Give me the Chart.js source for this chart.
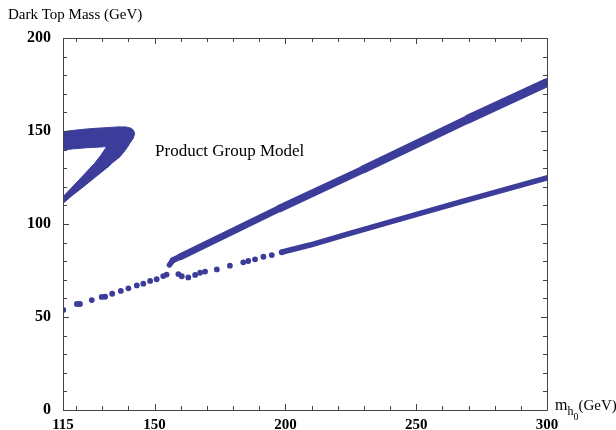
<!DOCTYPE html>
<html><head><meta charset="utf-8">
<script src="https://cdn.jsdelivr.net/npm/chart.js@4/dist/chart.umd.min.js"></script>
<style>html,body{margin:0;padding:0;background:#fff}canvas{display:block}</style>
</head><body>
<canvas id="c" width="616" height="430"></canvas>
<script>
// ---- tick values / labels ----
const xTickValues = [115,120,130,140,150,160,170,180,190,200,210,220,230,240,250,260,270,280,290,300];
const xTickLabels = [115,150,200,250,300];
const yTickValues = [0,10,20,30,40,50,60,70,80,90,100,110,120,130,140,150,160,170,180,190,200];
const yTickLabels = [0,50,100,150,200];

// ---- blob (upper-left region) outline edges ----
const blobTopX = [115,118,122,126,131.5,136,139,141,142,142.4];
const blobTopY = [149.6,150.2,150.8,151.3,151.8,152.2,152.2,151.5,150.3,148.5];
const blobBottomX = [115,119,124,128,131.7,131.8,134,136.8,139,140.6,141.8,142.4];
const blobBottomY = [139.8,140.4,141,141.3,141.6,130.1,133,136.2,140,143.5,146,148.5];
const branchUpperX = [115,119,123,127,129.5,131.7];
const branchUpperY = [114.7,120.5,126.5,132.5,137,141.6];
const branchLowerX = [115,118.5,122.8,127,131.7];
const branchLowerY = [111.1,115.3,120,124.8,130.1];

// ---- upper branch (thick line) ----
const upperX = [155.7,157,160,198,230,270,300];
const upperY = [78,80.5,82.5,108.5,129.5,156.5,176];

// ---- lower branch: dots and dense line ----
const lowerDotsX = [115.1,120.3,121.5,126.0,129.8,131.1,133.8,137.1,140.0,143.2,145.7,148.3,150.8,153.3,154.6,159.1,160.4,162.9,165.5,167.4,169.3,173.8,178.8,183.9,185.8,188.4,191.6,194.8,198.6];
const lowerDotsY = [53.8,57.0,57.0,59.1,60.8,60.9,62.5,64.0,65.4,67.0,67.9,69.4,70.3,72.0,72.8,73.1,71.9,71.3,72.6,73.8,74.4,75.6,77.6,79.4,80.1,81.0,82.4,83.3,84.8];
const lowerLineX = [199.2,209.4,224.7,251.5,268,300];
const lowerLineY = [85.1,88.7,95.0,105.7,112.3,124.8];

const COLOR = '#3c3c9a';
const pts = (xs, ys) => xs.map((x, i) => ({x: x, y: ys[i]}));
const FONT = '"Liberation Serif", "Times New Roman", serif';

const framePlugin = {
  id: 'frame',
  afterDatasetsDraw(chart) {
    const {ctx, chartArea: a, scales: {x, y}} = chart;
    ctx.save();
    ctx.strokeStyle = '#444';
    ctx.lineWidth = 1;
    ctx.beginPath();
    ctx.rect(Math.round(a.left) + 0.5, Math.round(a.top) + 0.5, Math.round(a.right - a.left), Math.round(a.bottom - a.top));
    ctx.stroke();
    ctx.beginPath();
    x.ticks.forEach(t => {
      const p = Math.round(x.getPixelForValue(t.value)) + 0.5;
      const len = xTickLabels.includes(t.value) ? 6 : 4;
      ctx.moveTo(p, a.bottom); ctx.lineTo(p, a.bottom - len);
      ctx.moveTo(p, a.top); ctx.lineTo(p, a.top + len);
    });
    y.ticks.forEach(t => {
      const p = Math.round(y.getPixelForValue(t.value)) + 0.5;
      const len = yTickLabels.includes(t.value) ? 6 : 4;
      ctx.moveTo(a.left, p); ctx.lineTo(a.left + len, p);
      ctx.moveTo(a.right, p); ctx.lineTo(a.right - len, p);
    });
    ctx.stroke();
    ctx.restore();
  },
  afterDraw(chart) {
    const {ctx, chartArea: a, scales: {x, y}} = chart;
    ctx.save();
    ctx.fillStyle = '#000';
    ctx.textBaseline = 'alphabetic';
    ctx.textAlign = 'left';
    ctx.font = '15px ' + FONT;
    ctx.fillText('Dark Top Mass (GeV)', 8, 19);
    ctx.font = '17px ' + FONT;
    ctx.fillText('Product Group Model', x.getPixelForValue(150.2), y.getPixelForValue(136.5));
    // x axis title  m_{h_0}(GeV)
    let px = a.right + 8;
    const base = a.bottom;
    ctx.font = '16px ' + FONT;
    ctx.fillText('m', px, base); px += ctx.measureText('m').width;
    ctx.font = '12px ' + FONT;
    ctx.fillText('h', px, base + 5); px += ctx.measureText('h').width;
    ctx.font = '10px ' + FONT;
    ctx.fillText('0', px, base + 10); px += ctx.measureText('0').width;
    ctx.font = '15px ' + FONT;
    ctx.fillText('(GeV)', px, base);
    ctx.restore();
  }
};

new Chart(document.getElementById('c'), {
  type: 'line',
  data: {
    datasets: [
      {data: pts(blobTopX, blobTopY), borderColor: COLOR, backgroundColor: COLOR, borderWidth: 1, pointRadius: 0, fill: false},
      {data: pts(blobBottomX, blobBottomY), borderColor: COLOR, backgroundColor: COLOR, borderWidth: 1, pointRadius: 0, fill: '-1'},
      {data: pts(branchUpperX, branchUpperY), borderColor: COLOR, backgroundColor: COLOR, borderWidth: 1, pointRadius: 0, fill: false},
      {data: pts(branchLowerX, branchLowerY), borderColor: COLOR, backgroundColor: COLOR, borderWidth: 1, pointRadius: 0, fill: '-1'},
      {data: pts(upperX, upperY), borderColor: COLOR, pointRadius: 0, fill: false,
        borderCapStyle: 'round', borderJoinStyle: 'round', borderWidth: 7,
        segment: {borderWidth: c => 5.5 + 3.5 * c.p0DataIndex / (upperX.length - 2)}},
      {data: pts(lowerLineX, lowerLineY), borderColor: COLOR, pointRadius: 0, fill: false,
        borderCapStyle: 'round', borderJoinStyle: 'round', borderWidth: 5.5},
      {data: pts(lowerDotsX, lowerDotsY), showLine: false, pointRadius: 2.9, pointBorderWidth: 0,
        pointBackgroundColor: COLOR, pointBorderColor: COLOR, fill: false}
    ]
  },
  options: {
    responsive: false,
    animation: false,
    devicePixelRatio: 1,
    layout: {padding: {left: 0, top: 38, right: 69, bottom: 0}},
    plugins: {legend: {display: false}, tooltip: {enabled: false}, title: {display: false}},
    scales: {
      x: {
        type: 'linear', min: 115, max: 300,
        grid: {display: false}, border: {display: false},
        afterBuildTicks: s => { s.ticks = xTickValues.map(v => ({value: v})); },
        afterFit: s => { s.height = 20; },
        ticks: {autoSkip: false, maxRotation: 0, padding: -2, color: '#000',
          font: {family: FONT, size: 15, weight: 'bold'},
          callback: v => xTickLabels.includes(v) ? String(v) : ''}
      },
      y: {
        type: 'linear', min: 0, max: 200,
        grid: {display: false}, border: {display: false},
        afterBuildTicks: s => { s.ticks = yTickValues.map(v => ({value: v})); },
        afterFit: s => { s.width = 63; },
        ticks: {autoSkip: false, padding: 4, color: '#000',
          font: {family: FONT, size: 16, weight: 'bold'},
          callback: v => yTickLabels.includes(v) ? String(v) : ''}
      }
    }
  },
  plugins: [framePlugin]
});
</script>
</body></html>
